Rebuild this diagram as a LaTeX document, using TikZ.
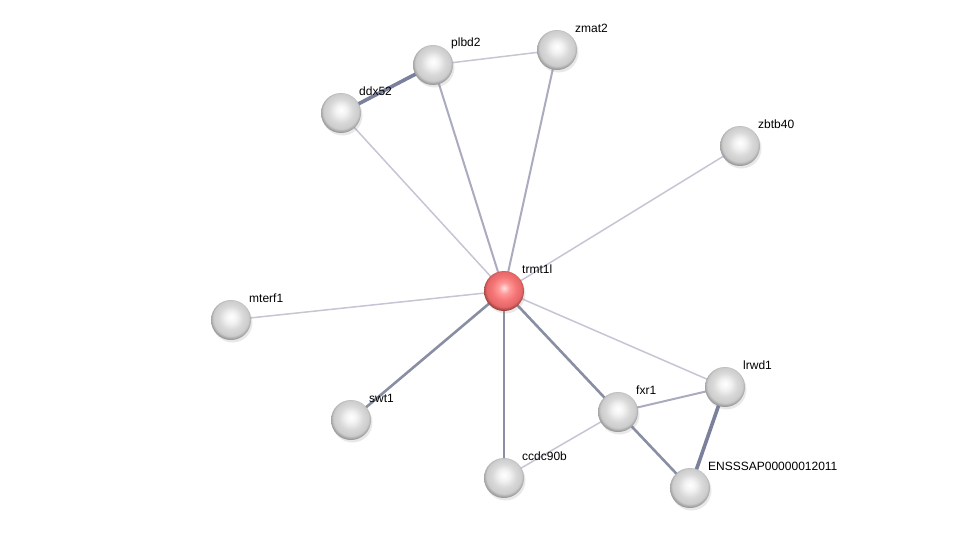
\documentclass[tikz,border=0pt]{standalone}
\usepackage{fontspec}
\setmainfont{Liberation Sans}
\usetikzlibrary{shadows}
\definecolor{elite}{HTML}{C6C5D4}
\definecolor{emed}{HTML}{ABABBF}
\definecolor{edark}{HTML}{8A8EA3}
\definecolor{evdark}{HTML}{7B809C}
\pgfdeclareradialshading{gsph}{\pgfpoint{0bp}{4bp}}{color(0bp)=(white); color(7bp)=(black!5); color(15bp)=(black!15); color(22bp)=(black!20); color(26bp)=(black!40); color(29bp)=(black!62); color(50bp)=(black!62)}
\pgfdeclareradialshading{rsph}{\pgfpoint{0bp}{4bp}}{color(0bp)=(red!12!white); color(7bp)=(red!40!white); color(15bp)=(red!52!white!96!black); color(22bp)=(red!55!white!90!black); color(26bp)=(red!50!black!75); color(29bp)=(red!45!black); color(50bp)=(red!45!black)}
\begin{document}
\begin{tikzpicture}[x=1pt,y=-1pt,
  prot/.style={circle,minimum size=40pt,inner sep=0pt,shading=gsph,
     drop shadow={shadow xshift=1.5pt,shadow yshift=-2.5pt,opacity=0.18}},
  hub/.style={prot,shading=rsph},
  lab/.style={anchor=west,inner sep=0pt,font=\fontsize{12}{14}\selectfont},
  lite/.style={draw=elite,line width=1.5pt},
  med/.style={draw=emed,line width=2pt},
  dark/.style={draw=edark,line width=2.6pt},
  vdark/.style={draw=evdark,line width=3.6pt}]
\useasboundingbox (0,0) rectangle (975,533);
\coordinate (trmt1l) at (504,291);
\coordinate (plbd2) at (433,65);
\coordinate (zmat2) at (557,50);
\coordinate (ddx52) at (341,113);
\coordinate (zbtb40) at (740,146);
\coordinate (mterf1) at (231,320);
\coordinate (swt1) at (351,420);
\coordinate (ccdc90b) at (504,478);
\coordinate (fxr1) at (618,412);
\coordinate (lrwd1) at (725,387);
\coordinate (enss) at (690,488);
% edges
\draw[lite] (trmt1l) -- (ddx52);
\draw[med] (trmt1l) -- (plbd2);
\draw[med] (trmt1l) -- (zmat2);
\draw[lite] (trmt1l) -- (zbtb40);
\draw[lite] (trmt1l) -- (mterf1);
\draw[dark] (trmt1l) -- (swt1);
\draw[dark] (trmt1l) -- (ccdc90b);
\draw[dark] (trmt1l) -- (fxr1);
\draw[lite] (trmt1l) -- (lrwd1);
\draw[vdark] (ddx52) -- (plbd2);
\draw[lite] (plbd2) -- (zmat2);
\draw[med] (fxr1) -- (lrwd1);
\draw[lite] (fxr1) -- (ccdc90b);
\draw[dark] (fxr1) -- (enss);
\draw[vdark] (lrwd1) -- (enss);
% nodes
\node[hub] (n-trmt1l) at (trmt1l) {};
\foreach \n in {plbd2,zmat2,ddx52,zbtb40,mterf1,swt1,ccdc90b,fxr1,lrwd1,enss}
  \node[prot] (n-\n) at (\n) {};
\node[lab] (l-trmt1l) at ([shift={(18,-22)}]trmt1l) {trmt1l};
\node[lab] (l-plbd2) at ([shift={(18,-22)}]plbd2) {plbd2};
\node[lab] (l-zmat2) at ([shift={(18,-22)}]zmat2) {zmat2};
\node[lab] (l-ddx52) at ([shift={(18,-22)}]ddx52) {ddx52};
\node[lab] (l-zbtb40) at ([shift={(18,-22)}]zbtb40) {zbtb40};
\node[lab] (l-mterf1) at ([shift={(18,-22)}]mterf1) {mterf1};
\node[lab] (l-swt1) at ([shift={(18,-22)}]swt1) {swt1};
\node[lab] (l-ccdc90b) at ([shift={(18,-22)}]ccdc90b) {ccdc90b};
\node[lab] (l-fxr1) at ([shift={(18,-22)}]fxr1) {fxr1};
\node[lab] (l-lrwd1) at ([shift={(18,-22)}]lrwd1) {lrwd1};
\node[lab] (l-enss) at ([shift={(18,-22)}]enss) {ENSSSAP00000012011};
\end{tikzpicture}
\end{document}
